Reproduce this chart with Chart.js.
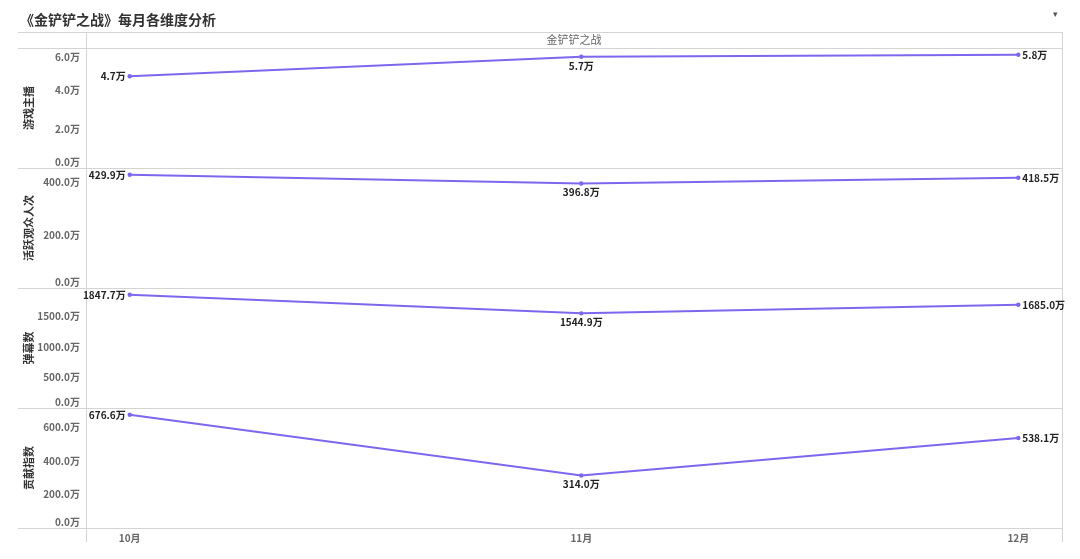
<!DOCTYPE html>
<html>
<head>
<meta charset="utf-8">
<script src="https://cdn.jsdelivr.net/npm/chart.js@4"></script>
<style>
    body { margin: 0; background: #fff; }
    #wrap { position: relative; width: 1080px; height: 559px; }
    #title { position: absolute; left: 20px; top: 9px; font: bold 14px 'Noto Sans CJK SC', sans-serif; color: #333; line-height: 20px; }
    #menu { position: absolute; left: 1053px; top: 9px; font: 9px 'DejaVu Sans', sans-serif; color: #555; }
    canvas { position: absolute; left: 0; top: 0; }
</style>
</head>
<body>
<div id="wrap">
    <canvas id="chart" width="1080" height="559"></canvas>
    <div id="title">《金铲铲之战》每月各维度分析</div>
    <div id="menu">▾</div>
</div>
<script>
const headerText = '金铲铲之战';
const months = ['2023-10-01', '2023-11-01', '2023-12-01'];
const monthLabels = ['10月', '11月', '12月'];

const panelNames = ['游戏主播', '活跃观众人次', '弹幕数', '贡献指数'];
const anchors = [4.7, 5.7, 5.8];
const viewers = [429.9, 396.8, 418.5];
const danmaku = [1847.7, 1544.9, 1685.0];
const contribution = [676.6, 314.0, 538.1];
const panelValues = [anchors, viewers, danmaku, contribution];

const anchorTicks = [0, 2, 4, 6];
const viewerTicks = [0, 200, 400];
const danmakuTicks = [0, 500, 1000, 1500];
const contributionTicks = [0, 200, 400, 600];
const panelTicks = [anchorTicks, viewerTicks, danmakuTicks, contributionTicks];

const FONT = "'Noto Sans CJK SC', 'Noto Sans', sans-serif";
const LINE = '#7b68ee';
const BORDER = '#d4d4d4';

const start = Date.parse(months[0]);
const days = months.map(m => (Date.parse(m) - start) / 86400000);
const fmt = v => v.toFixed(1) + '万';

const datasets = panelValues.map((vals, i) => ({
    label: panelNames[i],
    yAxisID: 'y' + i,
    data: vals.map((v, j) => ({ x: days[j], y: v })),
    borderColor: LINE,
    backgroundColor: LINE,
    borderWidth: 2,
    pointRadius: 2.2,
    pointBorderWidth: 0,
    tension: 0
}));

const scales = {
    x: {
        type: 'linear',
        min: days[0] - 3,
        max: days[days.length - 1] + 3,
        grid: { display: false, drawTicks: false },
        border: { display: false },
        afterBuildTicks: scale => { scale.ticks = days.map(d => ({ value: d })); },
        afterFit: scale => { scale.height = 22; },
        ticks: {
            padding: 4,
            maxRotation: 0,
            autoSkip: false,
            color: '#666',
            font: { family: FONT, size: 10, weight: 'bold' },
            callback: v => monthLabels[days.indexOf(v)]
        }
    }
};

// top panel gets the highest weight so it is placed first
panelValues.forEach((vals, i) => {
    const top = Math.max(...vals) * 1.06;
    scales['y' + i] = {
        type: 'linear',
        position: 'left',
        stack: 'panels',
        stackWeight: 1,
        weight: panelValues.length - i,
        min: 0,
        max: top,
        grid: { display: false, drawTicks: false },
        border: { display: false },
        afterBuildTicks: scale => { scale.ticks = panelTicks[i].map(v => ({ value: v })); },
        afterFit: scale => { scale.width = 68; },
        title: {
            display: true,
            text: panelNames[i],
            color: '#333',
            padding: { top: 4, bottom: 0 },
            font: { family: FONT, size: 11, weight: 'bold' }
        },
        ticks: {
            padding: 6,
            autoSkip: false,
            color: '#666',
            font: { family: FONT, size: 10, weight: 'bold' },
            callback: function(v) {
                const s = fmt(v);
                if (v === 0) return [s, ''];
                if (v / this.max > 0.96) return ['', s];
                return s;
            }
        }
    };
});

const framePlugin = {
    id: 'frame',
    beforeDatasetsDraw(chart) {
        const ctx = chart.ctx;
        const a = chart.chartArea;
        ctx.save();
        ctx.strokeStyle = BORDER;
        ctx.lineWidth = 1;
        const hline = y => {
            ctx.beginPath();
            ctx.moveTo(18, Math.round(y) + 0.5);
            ctx.lineTo(a.right, Math.round(y) + 0.5);
            ctx.stroke();
        };
        hline(32);
        hline(a.top);
        panelValues.forEach((v, i) => hline(chart.scales['y' + i].bottom));
        [a.left, a.right].forEach(x => {
            ctx.beginPath();
            ctx.moveTo(Math.round(x) + 0.5, 32);
            ctx.lineTo(Math.round(x) + 0.5, 542);
            ctx.stroke();
        });
        ctx.fillStyle = '#666';
        ctx.font = '11px ' + FONT;
        ctx.textAlign = 'center';
        ctx.textBaseline = 'middle';
        ctx.fillText(headerText, (a.left + a.right) / 2, (32 + a.top) / 2);
        ctx.restore();
    },
    afterDatasetsDraw(chart) {
        const ctx = chart.ctx;
        ctx.save();
        ctx.fillStyle = '#222';
        ctx.font = 'bold 10px ' + FONT;
        chart.data.datasets.forEach((ds, i) => {
            const pts = chart.getDatasetMeta(i).data;
            pts.forEach((p, j) => {
                const text = fmt(ds.data[j].y);
                if (j === 0) {
                    ctx.textAlign = 'right';
                    ctx.textBaseline = 'middle';
                    ctx.fillText(text, p.x - 4, p.y);
                } else if (j === pts.length - 1) {
                    ctx.textAlign = 'left';
                    ctx.textBaseline = 'middle';
                    ctx.fillText(text, p.x + 4, p.y);
                } else {
                    ctx.textAlign = 'center';
                    ctx.textBaseline = 'top';
                    ctx.fillText(text, p.x, p.y + 4);
                }
            });
        });
        ctx.restore();
    }
};

new Chart(document.getElementById('chart'), {
    type: 'line',
    data: { datasets },
    options: {
        responsive: false,
        animation: false,
        layout: { padding: { left: 18, right: 18, top: 48, bottom: 9 } },
        scales,
        plugins: {
            legend: { display: false },
            tooltip: { enabled: false }
        }
    },
    plugins: [framePlugin]
});
</script>
</body>
</html>
